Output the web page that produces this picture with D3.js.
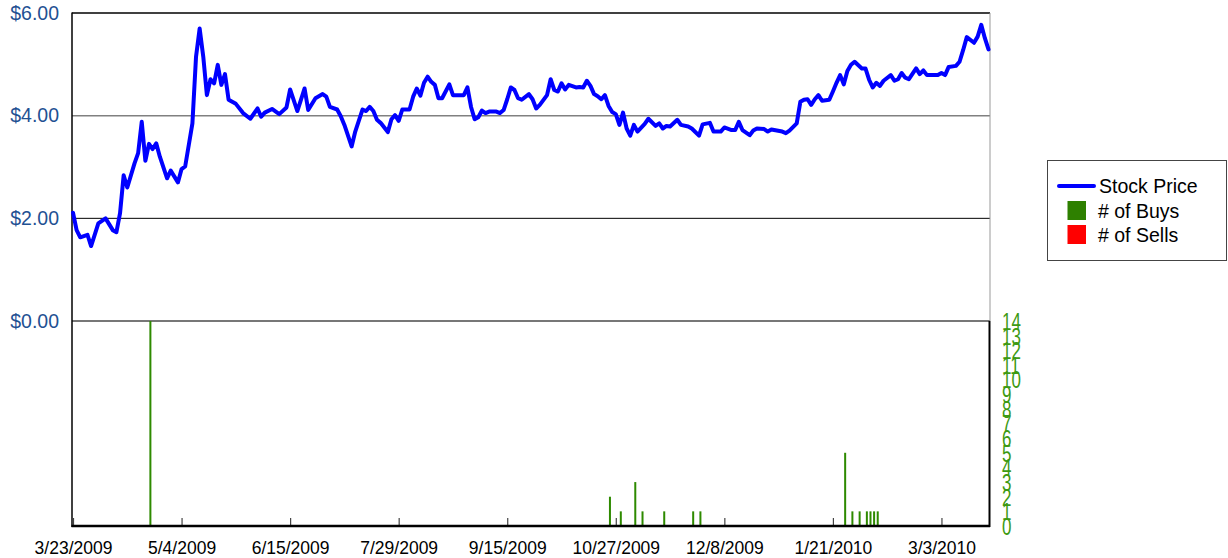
<!DOCTYPE html>
<html>
<head>
<meta charset="utf-8">
<script src="https://cdn.jsdelivr.net/npm/d3@7"></script>
<style>
  html, body { margin: 0; padding: 0; background: #fff; }
  svg { display: block; font-family: "Liberation Sans", Arial, sans-serif; }
</style>
</head>
<body>
<svg id="chart" width="1228" height="558"></svg>
<script>
// ---- Data (trading-day index since 3/23/2009) ----
const priceDays = [0,1,2,4,5,7,9,11,12,13,14,15,17,18,19,20,21,22,23,24,26,27,29,30,31,33,34,35,36,37,38,39,40,41,42,43,45,47,49,51,52,53,55,57,59,60,62,64,65,67,69,70,71,73,74,75,77,78,80,81,82,83,84,85,87,88,89,90,91,93,94,95,96,97,98,99,100,101,102,104,105,108,109,110,111,112,113,114,115,117,118,119,120,121,122,123,124,126,127,128,129,131,132,133,134,135,136,137,139,140,141,142,143,144,145,146,147,148,149,150,151,152,153,154,155,156,158,159,161,162,163,164,165,167,168,170,171,173,174,176,177,179,180,182,183,184,185,187,188,189,191,192,193,196,197,198,200,201,202,203,204,205,206,207,209,210,211,212,213,214,215,216,218,219,220,221,222,223,224,226,227,228,229,230,231,233,234,235,236,239,240,241,242,244,245,246,247,249,250,251,252,253];
const priceValues = [2.11,1.77,1.63,1.68,1.46,1.90,2.00,1.77,1.73,2.10,2.84,2.60,3.07,3.27,3.88,3.12,3.45,3.35,3.46,3.20,2.78,2.93,2.70,2.96,3.01,3.85,5.15,5.70,5.15,4.40,4.71,4.63,4.99,4.60,4.81,4.31,4.23,4.05,3.94,4.14,3.98,4.06,4.13,4.03,4.16,4.51,4.09,4.53,4.11,4.34,4.42,4.37,4.17,4.12,3.99,3.82,3.40,3.69,4.12,4.09,4.17,4.09,3.92,3.86,3.68,3.93,4.01,3.90,4.12,4.12,4.37,4.53,4.39,4.64,4.76,4.66,4.60,4.34,4.34,4.61,4.40,4.40,4.55,4.17,3.93,3.97,4.10,4.05,4.08,4.08,4.05,4.11,4.32,4.55,4.50,4.34,4.31,4.42,4.32,4.14,4.21,4.40,4.71,4.50,4.47,4.63,4.51,4.60,4.55,4.56,4.55,4.68,4.58,4.42,4.38,4.32,4.40,4.19,4.07,4.03,3.82,4.06,3.75,3.61,3.82,3.69,3.84,3.94,3.80,3.85,3.75,3.80,3.79,3.92,3.82,3.79,3.75,3.61,3.83,3.86,3.69,3.69,3.77,3.72,3.72,3.88,3.72,3.62,3.71,3.75,3.74,3.69,3.73,3.69,3.66,3.71,3.85,4.27,4.31,4.32,4.21,4.32,4.40,4.29,4.31,4.47,4.64,4.79,4.61,4.87,4.99,5.05,4.92,4.92,4.70,4.55,4.64,4.58,4.68,4.79,4.68,4.71,4.83,4.74,4.71,4.92,4.81,4.88,4.79,4.79,4.83,4.79,4.95,4.97,5.05,5.28,5.53,5.42,5.54,5.77,5.51,5.29];

const buyDays   = [21,148,151,155,157,163,171,173,213,215,217,219,220,221,222];
const buyCounts = [14,2,1,3,1,1,1,1,5,1,1,1,1,1,1];
const sellDays   = [];
const sellCounts = [];

const xTickDays   = [0,30,60,90,120,150,180,210,240];
const xTickLabels = ["3/23/2009","5/4/2009","6/15/2009","7/29/2009","9/15/2009","10/27/2009","12/8/2009","1/21/2010","3/3/2010"];
const priceTicks  = [6,4,2,0];
const countTicks  = [0,1,2,3,4,5,6,7,8,9,10,11,12,13,14];
const legendLabels = ["Stock Price","# of Buys","# of Sells"];

(function () {
  const svg = d3.select("#chart");
  const pL = 72, pR = 990, pT = 13, pM = 321, pB = 526;

  const x = d3.scaleLinear().domain([0, 253]).range([73, 988.5]);
  const yPrice = d3.scaleLinear().domain([0, 6]).range([pM, pT]);
  const yCount = d3.scaleLinear().domain([0, 14]).range([pB, pM]);

  const blueText = "#1f5193";
  const greenText = "#3d9a12";
  const barGreen = "#2e8a00";

  // gridlines
  const gridStyle = {6: ["#000", 1.5], 4: ["#808080", 1.5], 2: ["#000", 1], 0: ["#777", 2]};
  svg.append("g").selectAll("line").data(priceTicks).join("line")
    .attr("x1", pL).attr("x2", pR)
    .attr("y1", d => yPrice(d)).attr("y2", d => yPrice(d))
    .attr("stroke", d => gridStyle[d][0]).attr("stroke-width", d => gridStyle[d][1]);

  // left price labels
  svg.append("g").selectAll("text").data(priceTicks).join("text")
    .attr("x", 59).attr("y", d => yPrice(d)).attr("dy", "0.35em")
    .attr("text-anchor", "end").attr("fill", blueText)
    .style("font-size", "19.5px")
    .text(d => d3.format("$.2f")(d));

  // frame
  svg.append("line").attr("x1", pL).attr("x2", pL).attr("y1", pT - 0.5).attr("y2", pB + 1)
    .attr("stroke", "#000").attr("stroke-width", 1.5);
  svg.append("line").attr("x1", pR).attr("x2", pR).attr("y1", pT).attr("y2", pM)
    .attr("stroke", "#999").attr("stroke-width", 1);
  svg.append("line").attr("x1", pR - 0.5).attr("x2", pR - 0.5).attr("y1", pM).attr("y2", pB + 1)
    .attr("stroke", "#000").attr("stroke-width", 2);

  // buy bars
  svg.append("g").selectAll("rect").data(buyDays.map((d, i) => ({d, c: buyCounts[i]}))).join("rect")
    .attr("x", d => x(d.d) + 0.4).attr("width", 2)
    .attr("y", d => yCount(d.c)).attr("height", d => yCount(0) - yCount(d.c))
    .attr("fill", barGreen);
  // sell bars (none in this period)
  svg.append("g").selectAll("rect").data(sellDays.map((d, i) => ({d, c: sellCounts[i]}))).join("rect")
    .attr("x", d => x(d.d) + 0.4).attr("width", 2)
    .attr("y", d => yCount(d.c)).attr("height", d => yCount(0) - yCount(d.c))
    .attr("fill", "#ff0000");

  // x axis
  const xAxis = d3.axisBottom(x).tickValues(xTickDays)
    .tickFormat((d, i) => xTickLabels[i]).tickSizeInner(-8).tickSizeOuter(0).tickPadding(16);
  const gx = svg.append("g").attr("transform", `translate(0,${pB})`).call(xAxis);
  gx.select(".domain").remove();
  gx.selectAll(".tick line").attr("stroke", "#444").attr("stroke-width", 1.2);
  gx.selectAll(".tick text").attr("fill", "#000").style("font-size", "17.5px")
    .style("font-family", '"Liberation Sans", Arial, sans-serif');
  svg.append("line").attr("x1", pL - 0.5).attr("x2", pR).attr("y1", pB).attr("y2", pB)
    .attr("stroke", "#000").attr("stroke-width", 2.5);

  // right count axis labels (tall narrow)
  svg.append("g").selectAll("text").data(countTicks).join("text")
    .attr("transform", d => `translate(1002,${yCount(d)}) scale(1,1.45)`)
    .attr("dy", "0.36em").attr("fill", greenText)
    .style("font-size", "17px")
    .text(d => d);

  // price line
  const line = d3.line().x(d => x(d[0])).y(d => yPrice(d[1]));
  svg.append("path")
    .datum(priceDays.map((d, i) => [d, priceValues[i]]))
    .attr("d", line).attr("fill", "none")
    .attr("stroke", "#0000ff").attr("stroke-width", 4)
    .attr("stroke-linejoin", "round").attr("stroke-linecap", "round");

  // legend
  const lg = svg.append("g");
  lg.append("rect").attr("x", 1047.5).attr("y", 160.5).attr("width", 179).attr("height", 100)
    .attr("fill", "#fff").attr("stroke", "#444").attr("stroke-width", 1);
  lg.append("line").attr("x1", 1059).attr("x2", 1094).attr("y1", 186).attr("y2", 186)
    .attr("stroke", "#0000ff").attr("stroke-width", 4).attr("stroke-linecap", "round");
  lg.append("rect").attr("x", 1067.5).attr("y", 201).attr("width", 18.5).attr("height", 19).attr("fill", "#2e8000");
  lg.append("rect").attr("x", 1067.5).attr("y", 225).attr("width", 18.5).attr("height", 19).attr("fill", "#ff0000");
  const legY = [186, 211, 235];
  const legX = [1099, 1098, 1098];
  lg.selectAll("text").data(legendLabels).join("text")
    .attr("x", (d, i) => legX[i]).attr("y", (d, i) => legY[i]).attr("dy", "0.35em")
    .attr("fill", "#000").style("font-size", "19.5px")
    .text(d => d);
})();
</script>
</body>
</html>
